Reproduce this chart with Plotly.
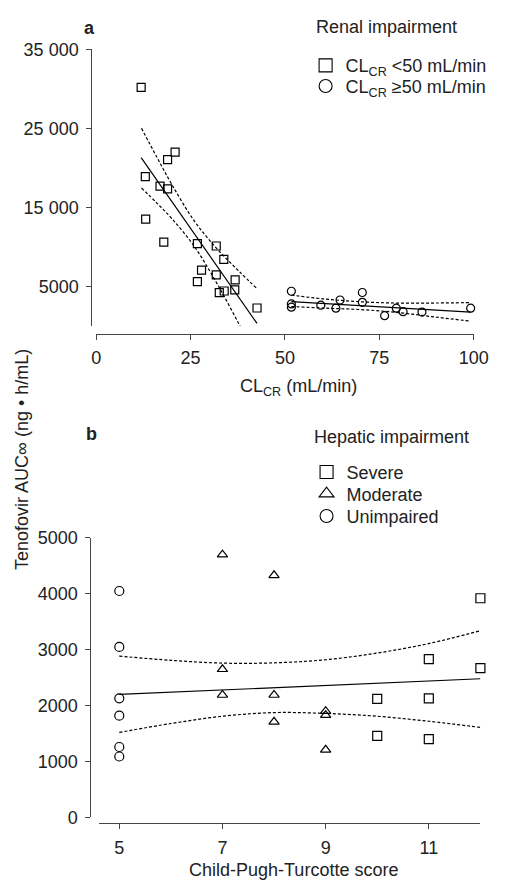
import plotly.graph_objects as go

W, H = 505, 890
FONT = "Liberation Sans, Arial, sans-serif"
AX = "#444444"
TXT = "#222222"

# ---------------- Panel a: renal impairment ----------------
renal_low_clcr = [11.9, 20.9, 18.9, 13.0, 16.9, 18.9, 13.1, 17.9, 26.8, 31.8,
                  33.8, 27.9, 31.8, 26.8, 36.8, 36.7, 33.9, 32.6, 42.6]
renal_low_auc = [30200, 22000, 21050, 18900, 17700, 17350, 13500, 10600, 10400, 10100,
                 8400, 7050, 6450, 5600, 5800, 4550, 4400, 4200, 2250]
renal_high_clcr = [51.7, 51.7, 51.7, 59.5, 63.5, 64.6, 70.5, 70.5, 76.4, 79.5, 81.3, 86.3, 99.2]
renal_high_auc = [4370, 2760, 2350, 2600, 2230, 3260, 4210, 2970, 1280, 2230, 1780, 1730, 2230]

renal_low_fit_x = [11.9, 42.6]
renal_low_fit_y = [21300, 290]
renal_low_ci_x = [12, 16, 20, 26, 32, 38, 42.6]
renal_low_ci_upper = [25010, 21410, 17920, 13260, 9750, 6820, 4700]
renal_low_ci_lower = [17450, 15575, 13590, 10040, 5340, 55, -4120]

renal_high_fit_x = [51.7, 99.2]
renal_high_fit_y = [3060, 1730]
renal_high_ci_x = [51.7, 60, 70, 80, 90, 99.2]
renal_high_ci_upper = [3880, 3410, 3040, 2870, 2880, 2930]
renal_high_ci_lower = [2440, 2240, 2050, 1670, 1090, 580]

renal_yticks = [5000, 15000, 25000, 35000]
renal_yticktext = ["5000", "15 000", "25 000", "35 000"]
renal_xticks = [0, 25, 50, 75, 100]

# ---------------- Panel b: hepatic impairment ----------------
hep_severe_score = [10, 10, 11, 11, 11, 12, 12]
hep_severe_auc = [2120, 1460, 2830, 2130, 1400, 3920, 2670]
hep_moderate_score = [7, 7, 7, 8, 8, 8, 9, 9, 9]
hep_moderate_auc = [4700, 2650, 2190, 4330, 2190, 1710, 1900, 1830, 1210]
hep_unimpaired_score = [5, 5, 5, 5, 5, 5]
hep_unimpaired_auc = [4050, 3050, 2130, 1820, 1260, 1090]

hep_fit_x = [5, 12]
hep_fit_y = [2200, 2480]
hep_ci_x = [5, 6, 7, 8, 9, 10, 11, 12]
hep_ci_upper = [2885, 2810, 2760, 2765, 2820, 2940, 3110, 3340]
hep_ci_lower = [1520, 1680, 1810, 1875, 1860, 1810, 1720, 1610]

hep_yticks = [0, 1000, 2000, 3000, 4000, 5000]
hep_xticks = [5, 7, 9, 11]


def px_x(p):
    return p / W


def px_y(p):
    return 1 - p / H


fig = go.Figure()

mk_a = dict(size=8, color="black", line=dict(color="black", width=1.2))
mk_b = dict(size=9, color="black", line=dict(color="black", width=1.2))
solid = dict(color="black", width=1.2)
dashed = dict(color="black", width=1.2, dash="3px,2px")

# panel a lines
for xs, ys, ln in [
    (renal_low_fit_x, renal_low_fit_y, solid),
    (renal_low_ci_x, renal_low_ci_upper, dashed),
    (renal_low_ci_x, renal_low_ci_lower, dashed),
    (renal_high_fit_x, renal_high_fit_y, solid),
    (renal_high_ci_x, renal_high_ci_upper, dashed),
    (renal_high_ci_x, renal_high_ci_lower, dashed),
]:
    fig.add_trace(go.Scatter(x=xs, y=ys, mode="lines", line=dict(ln, shape="spline"),
                             showlegend=False, xaxis="x", yaxis="y", hoverinfo="skip"))

fig.add_trace(go.Scatter(x=renal_low_clcr, y=renal_low_auc, mode="markers",
                         marker=dict(mk_a, symbol="square-open"), showlegend=False,
                         cliponaxis=False, xaxis="x", yaxis="y"))
fig.add_trace(go.Scatter(x=renal_high_clcr, y=renal_high_auc, mode="markers",
                         marker=dict(mk_a, symbol="circle-open"), showlegend=False,
                         cliponaxis=False, xaxis="x", yaxis="y"))

# panel b lines
for xs, ys, ln in [
    (hep_fit_x, hep_fit_y, solid),
    (hep_ci_x, hep_ci_upper, dashed),
    (hep_ci_x, hep_ci_lower, dashed),
]:
    fig.add_trace(go.Scatter(x=xs, y=ys, mode="lines", line=dict(ln, shape="spline"),
                             showlegend=False, xaxis="x2", yaxis="y2", hoverinfo="skip"))

fig.add_trace(go.Scatter(x=hep_severe_score, y=hep_severe_auc, mode="markers",
                         marker=dict(mk_b, symbol="square-open"), showlegend=False,
                         cliponaxis=False, xaxis="x2", yaxis="y2"))
fig.add_trace(go.Scatter(x=hep_moderate_score, y=hep_moderate_auc, mode="markers",
                         marker=dict(mk_b, symbol="triangle-up-open"), showlegend=False,
                         cliponaxis=False, xaxis="x2", yaxis="y2"))
fig.add_trace(go.Scatter(x=hep_unimpaired_score, y=hep_unimpaired_auc, mode="markers",
                         marker=dict(mk_b, symbol="circle-open"), showlegend=False,
                         cliponaxis=False, xaxis="x2", yaxis="y2"))

# legend entries: one legend per entry so that row spacing matches the reference
leg_mk = dict(size=13, color="black", line=dict(color="black", width=1.1))
legend_entries = [
    ("CL<sub>CR</sub> &lt;50 mL/min", "square-open", "legend", 313, 57, "x", "y"),
    ("CL<sub>CR</sub> ≥50 mL/min", "circle-open", "legend2", 313, 78, "x", "y"),
    ("Severe", "square-open", "legend3", 314, 473, "x2", "y2"),
    ("Moderate", "triangle-up-open", "legend4", 314, 495, "x2", "y2"),
    ("Unimpaired", "circle-open", "legend5", 314, 518, "x2", "y2"),
]
legend_layout = {}
for name, sym, leg, lx, ly, xa, ya in legend_entries:
    fig.add_trace(go.Scatter(x=[None], y=[None], mode="markers", name=name,
                             marker=dict(leg_mk, symbol=sym), legend=leg,
                             xaxis=xa, yaxis=ya))
    legend_layout[leg] = dict(x=px_x(lx), y=px_y(ly), xanchor="left", yanchor="middle",
                              bgcolor="rgba(0,0,0,0)", borderwidth=0,
                              font=dict(size=18, color=TXT, family=FONT))

axis_common = dict(showline=True, linecolor=AX, linewidth=1.3, ticks="outside",
                   ticklen=5, tickwidth=1.3, tickcolor=AX, showgrid=False, zeroline=False,
                   tickfont=dict(size=18, color=TXT, family=FONT), fixedrange=True)

fig.update_layout(
    width=W, height=H,
    margin=dict(l=0, r=0, t=0, b=0),
    paper_bgcolor="white", plot_bgcolor="white",
    font=dict(family=FONT, size=18, color=TXT),
    xaxis=dict(axis_common, domain=[px_x(95), px_x(488)], range=[0, 100],
               anchor="free", position=px_y(331), tickvals=renal_xticks,
               ticklabelstandoff=3),
    yaxis=dict(axis_common, domain=[px_y(323), px_y(40.4)], range=[0, 35000],
               anchor="free", position=px_x(90), tickvals=renal_yticks,
               ticktext=renal_yticktext, ticklabelstandoff=4),
    xaxis2=dict(axis_common, domain=[px_x(98), px_x(495)], range=[4.609, 12],
                anchor="free", position=px_y(832), tickvals=hep_xticks,
                ticklabelstandoff=3),
    yaxis2=dict(axis_common, domain=[px_y(826), px_y(540)], range=[0, 5000],
                anchor="free", position=px_x(89), tickvals=hep_yticks,
                ticklabelstandoff=4),
    annotations=[
        dict(text="<b>a</b>", x=px_x(88), y=px_y(18), xref="paper", yref="paper",
             showarrow=False, xanchor="center", yanchor="middle", font=dict(size=18)),
        dict(text="<b>b</b>", x=px_x(90), y=px_y(434), xref="paper", yref="paper",
             showarrow=False, xanchor="center", yanchor="middle", font=dict(size=18)),
        dict(text="Renal impairment", x=px_x(322), y=px_y(17), xref="paper", yref="paper",
             showarrow=False, xanchor="left", yanchor="middle", font=dict(size=18)),
        dict(text="Hepatic impairment", x=px_x(320), y=px_y(437), xref="paper", yref="paper",
             showarrow=False, xanchor="left", yanchor="middle", font=dict(size=18)),
        dict(text="CL<sub>CR</sub> (mL/min)", x=px_x(306), y=px_y(386), xref="paper",
             yref="paper", showarrow=False, xanchor="center", yanchor="middle",
             font=dict(size=18)),
        dict(text="Child-Pugh-Turcotte score", x=px_x(300), y=px_y(880), xref="paper",
             yref="paper", showarrow=False, xanchor="center", yanchor="middle",
             font=dict(size=18)),
        dict(text="Tenofovir AUC∞ (ng • h/mL)", x=px_x(17), y=px_y(460), xref="paper",
             yref="paper", showarrow=False, xanchor="center", yanchor="middle",
             textangle=-90, font=dict(size=18)),
    ],
    **legend_layout,
)

fig.write_html("out.html")
